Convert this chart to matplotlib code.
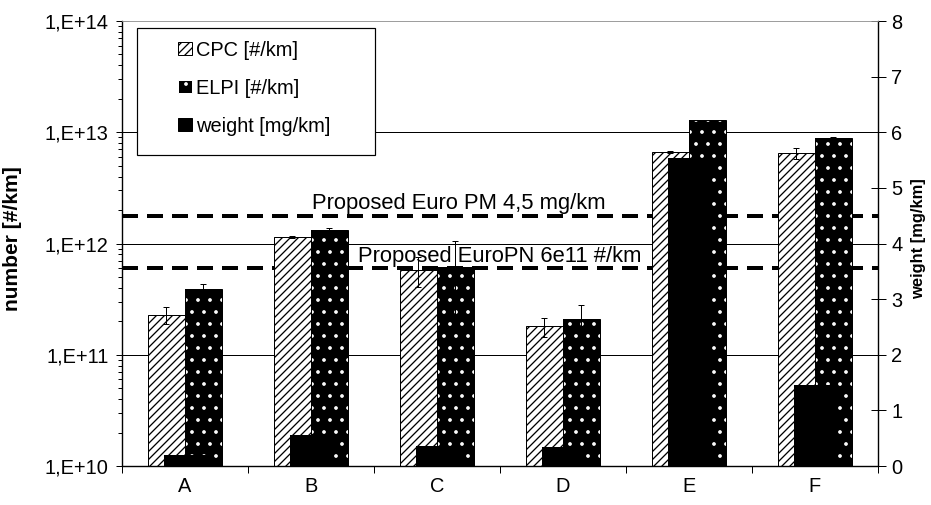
import matplotlib.pyplot as plt
import matplotlib as mpl
import numpy as np
from matplotlib.patches import Patch, Rectangle
from matplotlib.transforms import blended_transform_factory

plt.rcParams["font.family"] = ["Liberation Sans", "DejaVu Sans"]
plt.rcParams["hatch.linewidth"] = 1.3

DPI = 72

vehicles = ["A", "B", "C", "D", "E", "F"]

# particle number, #/km
cpc_number = [2.3e11, 1.15e12, 5.8e11, 1.8e11, 6.6e12, 6.5e12]
cpc_error = [0.4e11, 0.03e12, 1.7e11, 0.35e11, 0.15e12, 0.7e12]
elpi_number = [3.9e11, 1.32e12, 6.2e11, 2.1e11, 1.29e13, 8.9e12]
elpi_error = [0.45e11, 0.05e12, 4.3e11, 0.7e11, 0.0, 0.2e12]

# particle mass, mg/km
weight = [0.2, 0.56, 0.36, 0.34, 5.54, 1.46]

pm_limit = 4.5
pn_limit = 6e11
pm_label = "Proposed Euro PM 4,5 mg/km"
pn_label = "Proposed EuroPN 6e11 #/km"

legend_names = ["CPC [#/km]", "ELPI [#/km]", "weight [mg/km]"]


def excel_exponent(value, position):
    """
    Formats a power of ten the way the spreadsheet does, e.g. 1,E+12.
    """
    return f"1,E+{int(round(np.log10(value)))}"


def dotted_bar(axis, x, heights, width):
    """
    Black bars with white dots. The hatch takes the edge colour, so the outline is drawn again on top.
    """
    axis.bar(x, heights, width, color="black", edgecolor="white", linewidth=0, hatch=".", zorder=2)
    axis.bar(x, heights, width, fill=False, edgecolor="black", linewidth=1, zorder=2.1)


figure = plt.figure(figsize=(931 / DPI, 505 / DPI), dpi=DPI)
axis = figure.add_axes([0.131, 0.0772, 0.812, 0.8812])
axis_weight = axis.twinx()

x = np.arange(len(vehicles))
bar_width = 0.294
weight_width = 0.333

axis.set_yscale("log")

# Number concentrations on the left (log) axis
axis.bar(x - bar_width / 2, cpc_number, bar_width, color="white", edgecolor="black", linewidth=1, hatch="///", zorder=2)
dotted_bar(axis, x + bar_width / 2, elpi_number, bar_width)
axis.errorbar(x - bar_width / 2, cpc_number, yerr=cpc_error, fmt="none", ecolor="black", elinewidth=1, capsize=3, capthick=1, zorder=3)
axis.errorbar(x + bar_width / 2, elpi_number, yerr=elpi_error, fmt="none", ecolor="black", elinewidth=1, capsize=3, capthick=1, zorder=3)

# Limit lines sit behind the bars, so both are drawn on the left axis
dash = (0, (4, 2.25))
axis.axhline(pn_limit, color="black", linewidth=4, linestyle=dash, zorder=1.5)
pm_transform = blended_transform_factory(axis.transAxes, axis_weight.transData)
axis.plot([0, 1], [pm_limit, pm_limit], transform=pm_transform, color="black", linewidth=4, linestyle=dash, zorder=1.5)

axis.annotate(pn_label, (2.5, pn_limit), xytext=(0, 1), textcoords="offset points", ha="center", va="bottom", fontsize=22, zorder=4)
axis_weight.annotate(pm_label, (2.17, pm_limit), xytext=(0, 2), textcoords="offset points", ha="center", va="bottom", fontsize=22, zorder=4)

# Mass on the right axis, in front of the number bars
axis_weight.bar(x, weight, weight_width, color="black", zorder=2)

axis.set_xlim(-0.5, len(vehicles) - 0.5)
axis.set_ylim(1e10, 1e14)
axis_weight.set_ylim(0, 8)

# Left axis ticks and grid
axis.yaxis.set_major_locator(mpl.ticker.LogLocator(base=10))
axis.yaxis.set_minor_locator(mpl.ticker.LogLocator(base=10, subs=np.arange(2, 10)))
axis.yaxis.set_major_formatter(mpl.ticker.FuncFormatter(excel_exponent))
axis.yaxis.set_minor_formatter(mpl.ticker.NullFormatter())
axis.tick_params(axis="y", which="major", direction="inout", length=13, width=1, labelsize=20, pad=7)
axis.tick_params(axis="y", which="minor", direction="out", length=4, width=1)
axis.set_axisbelow(True)
axis.yaxis.grid(True, which="major", color="black", linewidth=1)
for line, tick in zip(axis.get_ygridlines(), axis.get_yticks()):
    if tick <= 1e10 or tick >= 1e14:
        line.set_visible(False)

# Category labels between the boundary ticks
axis.set_xticks(np.arange(-0.5, len(vehicles)), labels=[])
axis.set_xticks(x, labels=vehicles, minor=True)
axis.tick_params(axis="x", which="major", direction="out", length=7, width=1)
axis.tick_params(axis="x", which="minor", length=0, labelsize=20, pad=11)

# Right axis
axis_weight.set_yticks(np.arange(0, 9))
axis_weight.tick_params(axis="y", direction="inout", length=15, width=1, labelsize=20, pad=6)

for ax in (axis, axis_weight):
    ax.spines["top"].set_color("#9a9a9a")
    for side in ("left", "right", "bottom"):
        ax.spines[side].set_linewidth(1.2)

axis.set_ylabel("number [#/km]", fontsize=21, fontweight="bold")
axis.yaxis.set_label_coords(-0.132, 0.51)
axis_weight.set_ylabel("weight [mg/km]", fontsize=16.5, fontweight="bold", rotation=90, va="center")
axis_weight.yaxis.set_label_coords(1.054, 0.51)

# Legend box with wide side margins
axis_weight.add_patch(Rectangle((0.0198, 0.699), 0.315, 0.285, transform=axis_weight.transAxes, facecolor="white", edgecolor="black", linewidth=1.2, zorder=5))
handles = [
    Patch(facecolor="white", edgecolor="black", hatch="///", label=legend_names[0]),
    Patch(facecolor="black", edgecolor="white", hatch=".", label=legend_names[1]),
    Patch(facecolor="black", edgecolor="black", label=legend_names[2]),
]
legend = axis_weight.legend(handles=handles, loc="upper left", bbox_to_anchor=(0.074, 0.956), frameon=False, fontsize=20,
                            borderpad=0, borderaxespad=0, handlelength=0.7, handleheight=0.65, handletextpad=0.2, labelspacing=0.95)
legend.set_zorder(6)

figure.savefig("out.png", dpi=DPI)
